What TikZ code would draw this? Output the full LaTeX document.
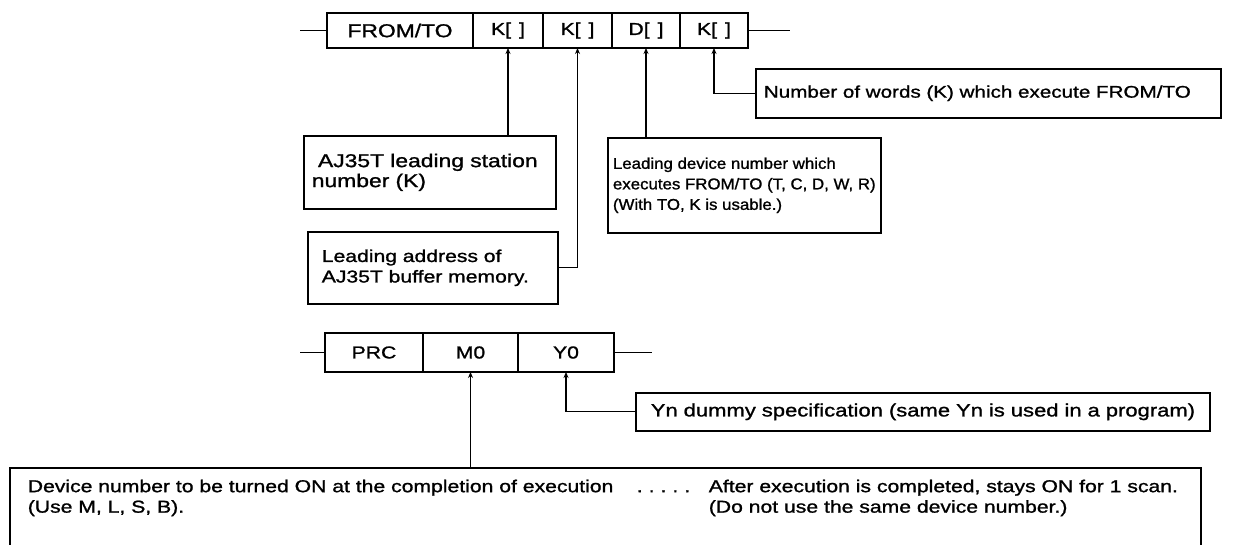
\documentclass[tikz,border=0pt]{standalone}
\usepackage{fontspec}
\setmainfont{Liberation Sans}[FakeStretch=1.23,FakeBold=1.2]
\newfontfamily\narrowfont{Liberation Sans}[FakeStretch=1.08,FakeBold=1.2]
\usetikzlibrary{positioning,arrows.meta}
\begin{document}
\begin{tikzpicture}[x=1pt,y=-1pt,line width=1.6pt,
  font=\fontsize{17.2}{20.5}\selectfont,
  cell/.style={draw,outer sep=0pt,inner sep=0pt,minimum height=35pt},
  note/.style={draw,align=left,inner xsep=8pt,inner ysep=0pt,anchor=north west},
  ptr/.style={-{Stealth[length=6pt,width=5pt]},line width=1.3pt}]
\useasboundingbox (0,0) rectangle (1252,545);

\node[cell,minimum width=146pt,font=\fontsize{18.6}{20.5}\selectfont] (fromto) at (400,30.5) {FROM/TO};
\node[cell,minimum width=70pt,right=0pt of fromto] (k1) {K[\hspace{8pt}]};
\node[cell,minimum width=69pt,right=0pt of k1] (k2) {K[\hspace{8pt}]};
\node[cell,minimum width=68pt,right=0pt of k2] (d1) {D[\hspace{8pt}]};
\node[cell,minimum width=68pt,right=0pt of d1] (k4) {K[\hspace{8pt}]};
\coordinate (l1) at (300,30.5);
\coordinate (r1) at (790,30.5);
\draw (l1) -- (fromto.west);
\draw (k4.east) -- (r1);

\node[note,text width=236pt,minimum height=73pt,font=\fontsize{18.6}{20}\selectfont] (stnbox) at (303,135) {\ AJ35T leading station\\number (K)};
\node[note,text width=234pt,minimum height=72pt] (addrbox) at (307,231) {\hspace{6pt}Leading address of\\\hspace{6pt}AJ35T buffer memory.};
\node[note,inner xsep=5pt,minimum width=273pt,minimum height=95pt,font=\narrowfont\fontsize{15.6}{20.5}\selectfont] (devnbox) at (607,137) {Leading device number which\\executes FROM/TO (T, C, D, W, R)\\(With TO, K is usable.)};
\node[note,text width=449pt,minimum height=49pt,font=\fontsize{16.8}{20.5}\selectfont] (numbox) at (755,68) {Number of words (K) which execute FROM/TO};

\draw[ptr] (stnbox.north -| k1.south) -- (k1.south);
\draw[ptr] (addrbox.east) -| (k2.south);
\draw[ptr] (devnbox.north -| d1.south) -- (d1.south);
\draw[ptr] (numbox.west) -| (k4.south);

\node[cell,minimum width=98pt,minimum height=39pt] (prc) at (374,352.5) {PRC};
\node[cell,minimum width=95pt,minimum height=39pt,right=0pt of prc] (m0) {M0};
\node[cell,minimum width=96pt,minimum height=39pt,right=0pt of m0] (y0) {Y0};
\coordinate (l2) at (300,352.5);
\coordinate (r2) at (652,352.5);
\draw (l2) -- (prc.west);
\draw (y0.east) -- (r2);

\node[note,text width=558pt,minimum height=38pt,font=\fontsize{17.9}{20.5}\selectfont] (ynbox) at (635,392) {\hspace{7pt}Yn dummy specification (same Yn is used in a program)};
\node[note,minimum width=1191pt,minimum height=100pt] (devbox) at (9,467) {};
\node[anchor=north west,inner sep=0pt,align=left] (devtxt) at (27,477) {\strut Device number to be turned ON at the completion of execution\\(Use M, L, S, B).};
\node[anchor=north west,inner sep=0pt] (dots) at (636,477) {\strut.\hspace{6pt}.\hspace{6pt}.\hspace{6pt}.\hspace{6pt}.};
\node[anchor=north west,inner sep=0pt,align=left] (aftertxt) at (708,477) {\strut After execution is completed, stays ON for 1 scan.\\(Do not use the same device number.)};

\draw[ptr] (devbox.north -| m0.south) -- (m0.south);
\draw[ptr] (ynbox.west) -| (y0.south);
\end{tikzpicture}
\end{document}
